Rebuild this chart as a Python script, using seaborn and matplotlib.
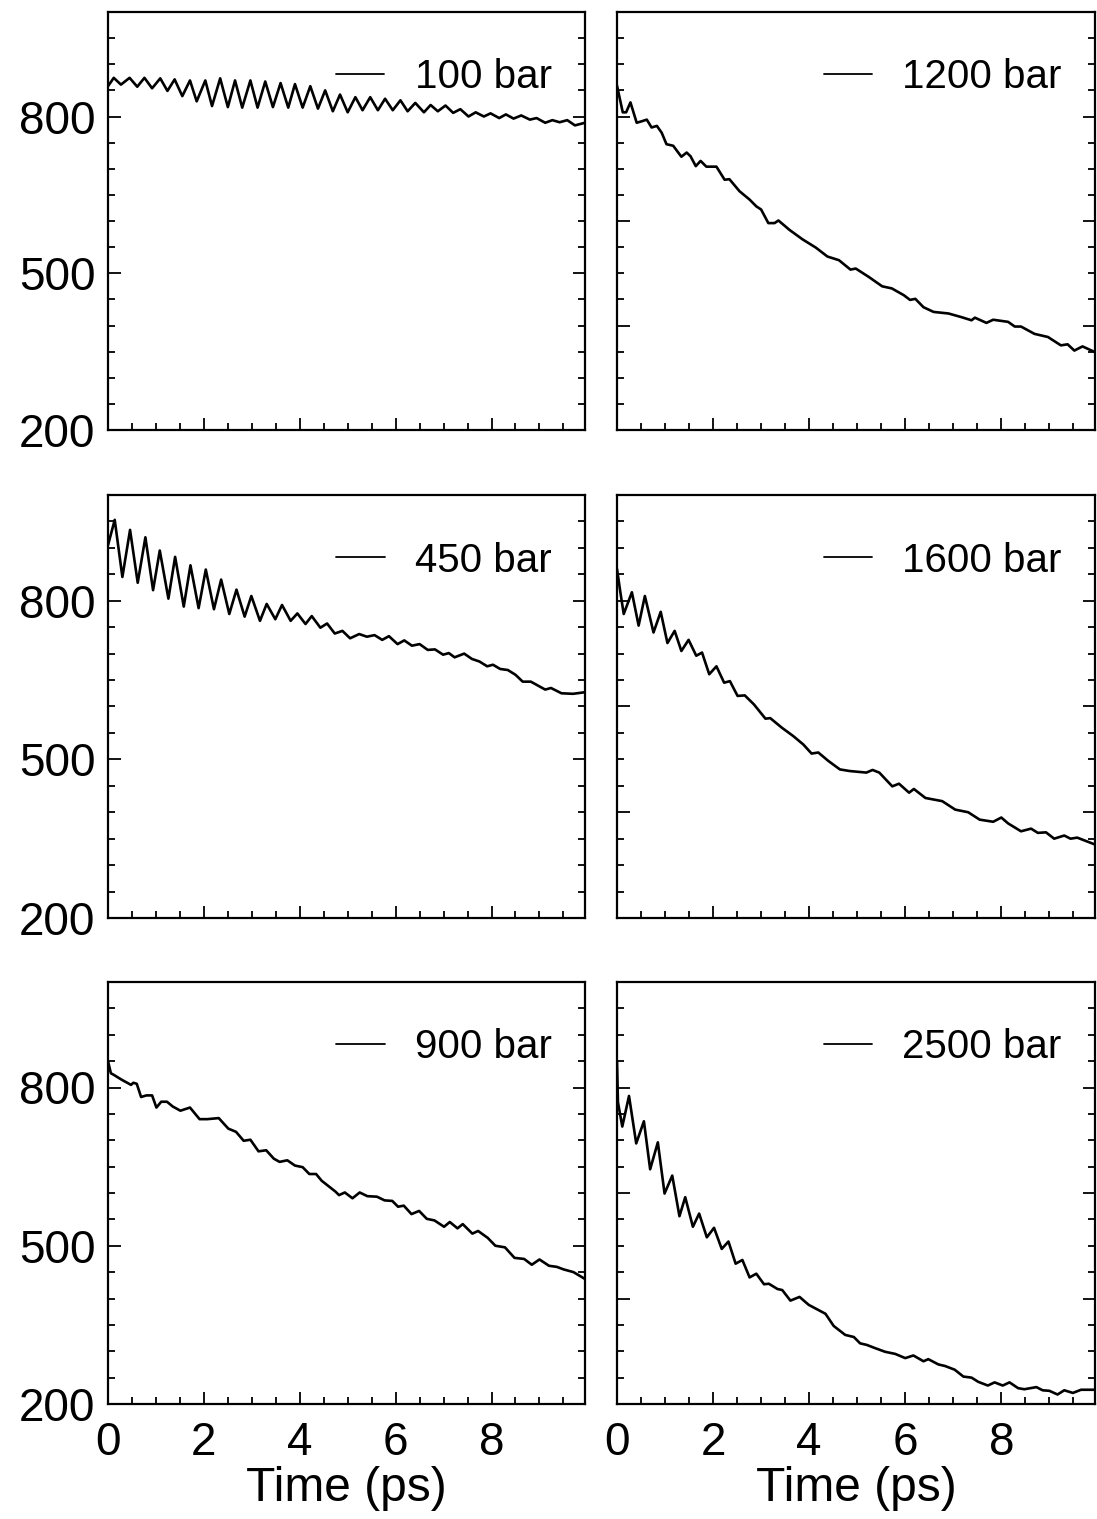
import numpy as np
import pandas as pd
import matplotlib
matplotlib.use("Agg")
import matplotlib.pyplot as plt
import seaborn as sns
from matplotlib.ticker import MultipleLocator, FixedLocator

# ---------------- data ----------------
t_100 = [0.00, 0.12, 0.27, 0.45, 0.61, 0.76, 0.92, 1.09, 1.24, 1.39, 1.55, 1.71, 1.85, 2.03,
         2.17, 2.34, 2.50, 2.65, 2.80, 2.97, 3.12, 3.28, 3.44, 3.60, 3.76, 3.90, 4.06, 4.22,
         4.38, 4.53, 4.69, 4.84, 5.00, 5.16, 5.31, 5.47, 5.63, 5.78, 5.94, 6.10, 6.25, 6.41,
         6.59, 6.73, 6.88, 7.04, 7.20, 7.35, 7.52, 7.67, 7.84, 7.98, 8.16, 8.30, 8.46, 8.62,
         8.80, 8.94, 9.12, 9.27, 9.42, 9.58, 9.74, 9.95]
v_100 = [858, 874, 861, 874, 857, 874, 854, 873, 849, 871, 839, 869, 829, 869,
         820, 873, 818, 869, 817, 869, 817, 867, 818, 864, 817, 862, 817, 858,
         815, 850, 810, 842, 808, 837, 812, 837, 812, 834, 812, 831, 810, 826,
         808, 822, 810, 821, 807, 814, 800, 808, 800, 806, 797, 804, 796, 802,
         794, 797, 788, 793, 789, 793, 783, 788]

t_450 = [0.00, 0.14, 0.30, 0.46, 0.62, 0.78, 0.94, 1.08, 1.26, 1.40, 1.58, 1.72, 1.89, 2.04,
         2.21, 2.36, 2.53, 2.68, 2.85, 2.99, 3.17, 3.31, 3.49, 3.63, 3.81, 3.95, 4.12, 4.25,
         4.43, 4.57, 4.73, 4.89, 5.05, 5.24, 5.40, 5.56, 5.72, 5.86, 6.04, 6.18, 6.34, 6.50,
         6.67, 6.82, 6.99, 7.11, 7.23, 7.43, 7.59, 7.75, 7.91, 8.03, 8.18, 8.34, 8.50, 8.65,
         8.82, 9.12, 9.24, 9.46, 9.70, 9.95]
v_450 = [905, 953, 845, 934, 834, 920, 820, 895, 804, 883, 789, 867, 786, 859,
         784, 840, 775, 821, 770, 809, 762, 794, 765, 792, 762, 776, 756, 771,
         749, 757, 738, 743, 729, 737, 732, 735, 726, 733, 718, 725, 715, 718,
         707, 708, 698, 701, 693, 700, 690, 685, 676, 679, 671, 669, 660, 647,
         647, 632, 635, 625, 624, 627]

t_900 = [0.00, 0.06, 0.12, 0.28, 0.36, 0.48, 0.53, 0.60, 0.69, 0.80, 0.92, 1.01, 1.11, 1.23,
         1.35, 1.51, 1.71, 1.91, 2.07, 2.31, 2.51, 2.67, 2.83, 2.97, 3.14, 3.30, 3.46, 3.58,
         3.74, 3.90, 4.06, 4.20, 4.34, 4.46, 4.74, 4.82, 4.94, 5.10, 5.25, 5.41, 5.61, 5.77,
         5.93, 6.05, 6.17, 6.33, 6.49, 6.65, 6.81, 7.01, 7.13, 7.29, 7.40, 7.60, 7.72, 7.92,
         8.08, 8.28, 8.48, 8.68, 8.84, 9.00, 9.20, 9.36, 9.51, 9.71, 9.95]
v_900 = [850, 827, 824, 815, 811, 805, 809, 807, 782, 785, 785, 762, 773, 773,
         764, 756, 762, 740, 740, 742, 722, 716, 699, 701, 679, 681, 665, 659,
         662, 652, 649, 636, 636, 623, 603, 596, 601, 590, 601, 594, 593, 586,
         585, 574, 576, 560, 566, 551, 548, 536, 545, 533, 541, 523, 528, 515,
         500, 497, 477, 475, 464, 474, 462, 460, 455, 450, 437]

t_1200 = [0.00, 0.12, 0.19, 0.28, 0.41, 0.52, 0.62, 0.72, 0.83, 0.93, 1.03, 1.17, 1.34, 1.45,
          1.53, 1.64, 1.74, 1.86, 2.07, 2.24, 2.34, 2.55, 2.76, 2.90, 3.00, 3.15, 3.28, 3.36,
          3.59, 3.86, 4.14, 4.38, 4.62, 4.86, 4.97, 5.24, 5.52, 5.72, 5.97, 6.10, 6.21, 6.38,
          6.59, 6.90, 7.17, 7.38, 7.45, 7.69, 7.83, 8.14, 8.28, 8.41, 8.69, 8.97, 9.24, 9.38,
          9.52, 9.69, 9.95]
v_1200 = [859, 808, 808, 827, 788, 791, 794, 779, 782, 769, 747, 744, 723, 731,
          724, 705, 715, 704, 704, 679, 680, 657, 641, 628, 622, 596, 596, 601,
          583, 565, 549, 532, 525, 507, 509, 493, 475, 471, 458, 449, 451, 435,
          426, 423, 416, 410, 415, 405, 411, 407, 398, 398, 384, 378, 362, 364,
          352, 360, 349]

t_1600 = [0.00, 0.07, 0.14, 0.31, 0.45, 0.58, 0.76, 0.91, 1.05, 1.20, 1.34, 1.49, 1.65, 1.77,
          1.92, 2.07, 2.23, 2.35, 2.51, 2.66, 2.85, 3.09, 3.19, 3.43, 3.67, 3.88, 4.05, 4.19,
          4.40, 4.64, 4.84, 5.19, 5.32, 5.46, 5.73, 5.87, 6.08, 6.18, 6.42, 6.77, 7.04, 7.31,
          7.55, 7.83, 8.00, 8.14, 8.41, 8.62, 8.76, 8.93, 9.10, 9.31, 9.44, 9.58, 9.95]
v_1600 = [860, 816, 775, 816, 753, 809, 740, 779, 720, 743, 705, 726, 696, 702,
          661, 676, 645, 648, 620, 621, 604, 577, 578, 560, 544, 528, 511, 513,
          497, 481, 478, 475, 480, 475, 449, 454, 437, 444, 427, 421, 405, 400,
          386, 382, 390, 379, 364, 369, 361, 362, 350, 356, 350, 352, 339]

t_2500 = [0.00, 0.02, 0.11, 0.25, 0.40, 0.56, 0.69, 0.85, 0.99, 1.15, 1.30, 1.42, 1.58, 1.71,
          1.87, 2.02, 2.18, 2.32, 2.47, 2.61, 2.76, 2.90, 3.06, 3.16, 3.34, 3.44, 3.61, 3.80,
          3.99, 4.34, 4.51, 4.75, 4.93, 5.06, 5.20, 5.37, 5.58, 5.79, 6.00, 6.17, 6.38, 6.48,
          6.69, 6.83, 7.03, 7.21, 7.38, 7.52, 7.72, 7.86, 8.03, 8.17, 8.35, 8.48, 8.73, 8.86,
          9.00, 9.17, 9.31, 9.49, 9.66, 9.95]
v_2500 = [850, 772, 726, 784, 694, 736, 645, 696, 599, 633, 556, 592, 536, 561,
          516, 534, 494, 508, 466, 473, 440, 447, 427, 428, 418, 416, 396, 403,
          388, 371, 348, 331, 327, 315, 312, 306, 299, 295, 287, 292, 281, 285,
          275, 272, 265, 252, 250, 242, 235, 241, 235, 241, 230, 228, 232, 226,
          225, 218, 226, 221, 227, 227]

panels = [
    (0, 0, "100 bar", t_100, v_100),
    (0, 1, "1200 bar", t_1200, v_1200),
    (1, 0, "450 bar", t_450, v_450),
    (1, 1, "1600 bar", t_1600, v_1600),
    (2, 0, "900 bar", t_900, v_900),
    (2, 1, "2500 bar", t_2500, v_2500),
]

x_major = [0, 2, 4, 6, 8]
y_major_left = [200, 500, 800]
y_major_right = [200, 400, 600, 800, 1000]

# ---------------- style ----------------
sns.set_style("ticks")
plt.rcParams["font.family"] = ["Liberation Sans", "DejaVu Sans"]
plt.rcParams["text.color"] = "black"
plt.rcParams["axes.labelcolor"] = "black"
plt.rcParams["xtick.color"] = "black"
plt.rcParams["ytick.color"] = "black"

W, H = 1097, 1519
fig = plt.figure(figsize=(W / 100, H / 100), dpi=100)

cols = [(108, 585), (617, 1095)]
rows = [(12, 430), (495, 918), (982, 1404)]

for r, c, lab, t, v in panels:
    l, rr = cols[c]
    tp, bt = rows[r]
    ax = fig.add_axes([l / W, 1 - bt / H, (rr - l) / W, (bt - tp) / H])
    df = pd.DataFrame({"t": t, "v": v})
    sns.lineplot(data=df, x="t", y="v", ax=ax, color="black", lw=1.9,
                 label=lab, estimator=None, sort=False)
    ax.set_xlim(0, 9.95)
    ax.set_ylim(200, 1000)
    ax.xaxis.set_major_locator(FixedLocator(x_major))
    ax.xaxis.set_minor_locator(MultipleLocator(0.5))
    ax.yaxis.set_major_locator(FixedLocator(y_major_left if c == 0 else y_major_right))
    ax.yaxis.set_minor_locator(MultipleLocator(50))
    ax.tick_params(which="both", direction="in", top=False, right=True,
                   left=True, bottom=True, width=1.3, colors="black")
    ax.tick_params(which="major", length=9)
    ax.tick_params(which="minor", length=5)
    ax.tick_params(axis="y", labelsize=33, pad=9, labelleft=(c == 0))
    ax.tick_params(axis="x", labelsize=33, pad=12, labelbottom=(r == 2))
    for s in ax.spines.values():
        s.set_linewidth(1.6)
        s.set_color("black")
    ax.set_ylabel("")
    if r == 2:
        ax.set_xlabel("Time (ps)", fontsize=34.5, labelpad=1, color="black")
    else:
        ax.set_xlabel("")
    leg = ax.legend(loc="center right", bbox_to_anchor=(0.93, 0.845), frameon=False,
                    fontsize=29, handlelength=1.2, handletextpad=0.75,
                    borderaxespad=0, borderpad=0)
    for txt in leg.get_texts():
        txt.set_color("black")
    for ln in leg.get_lines():
        ln.set_linewidth(1.3)

fig.savefig("out.png", dpi=100)
